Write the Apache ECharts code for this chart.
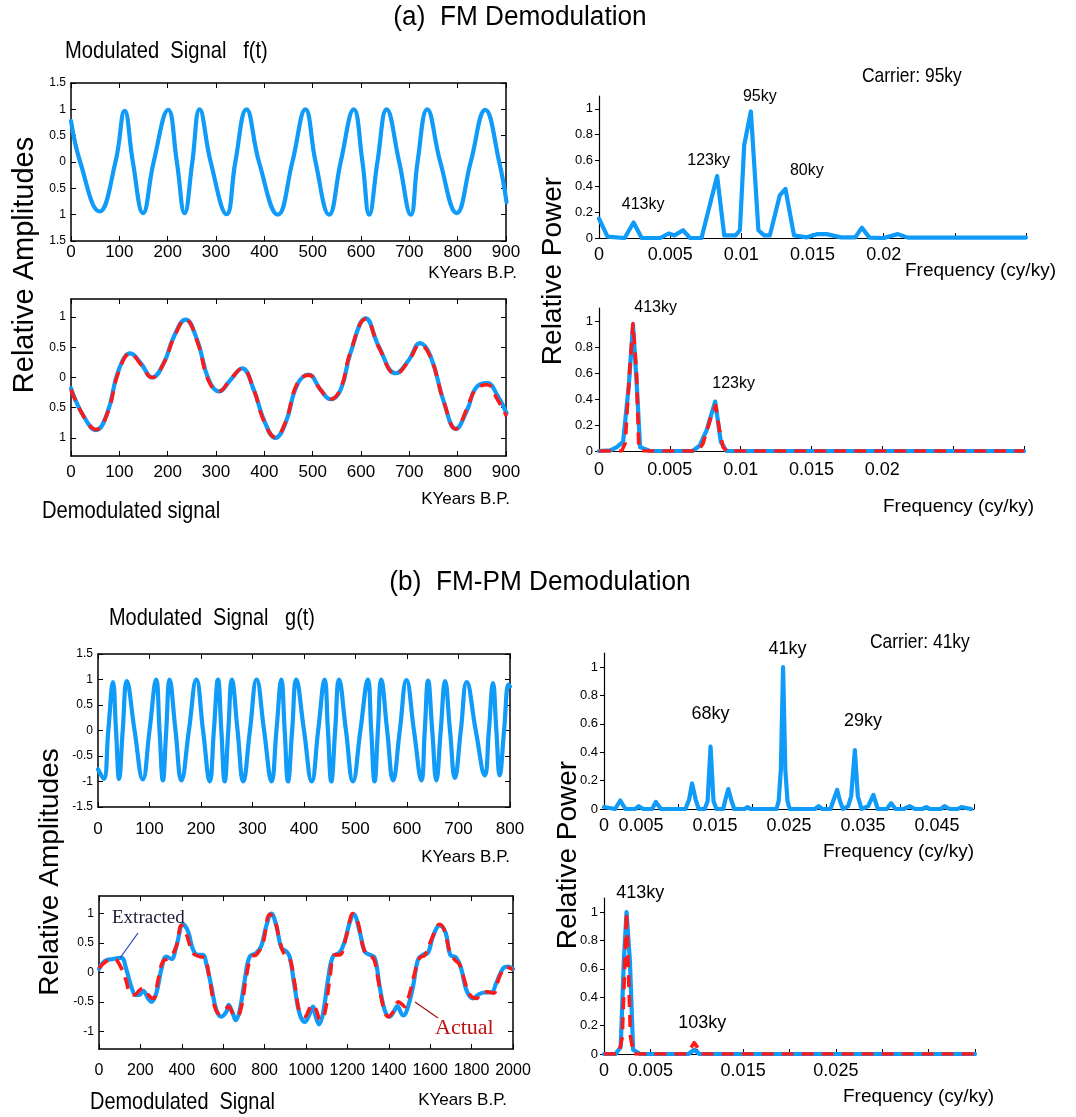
<!DOCTYPE html>
<html><head><meta charset="utf-8">
<script src="https://cdn.jsdelivr.net/npm/echarts@6/dist/echarts.min.js"></script>
<style>html,body{margin:0;padding:0;background:#fff}#c{width:1076px;height:1117px}</style>
</head><body><div id="c"></div><script>
// ---------------- DATA ----------------
// (a) Modulated signal f(t): [KYears B.P., amplitude]
const fmSignalF = [[0,0.78],[19,0],[59,-0.94],[92,0],[111,0.97],[128,0],[149,-0.97],[171,0],[201,0.99],[219,0],[235,-0.97],[251,0],[266,1.0],[289,0],[322,-0.99],[340,0],[363,1.0],[389,0],[428,-1.0],[458,0],[485,1.0],[506,0],[534,-1.0],[558,0],[585,1.0],[603,0],[617,-1.0],[634,0],[653,1.0],[679,0],[703,-1.0],[717,0],[737,1.0],[764,0],[798,-0.97],[827,0],[857,0.99],[886,0],[901,-0.76]];
// (a) Demodulated signal: extracted (blue) and actual (red)
const fmDemodExtracted = [[0,-0.18],[26,-0.64],[52,-0.87],[75,-0.59],[99,0.13],[123,0.4],[144,0.24],[168,0.0],[192,0.24],[213,0.68],[237,0.96],[261,0.62],[285,-0.04],[306,-0.23],[330,-0.04],[354,0.15],[378,-0.2],[399,-0.7],[423,-1.0],[444,-0.75],[468,-0.12],[492,0.05],[516,-0.2],[537,-0.36],[558,-0.2],[578,0.4],[610,0.98],[637,0.51],[672,0.07],[699,0.29],[722,0.57],[744,0.35],[772,-0.42],[796,-0.85],[820,-0.53],[837,-0.18],[861,-0.09],[882,-0.29],[901,-0.59]];
const fmDemodActual = [[0,-0.2],[26,-0.64],[52,-0.86],[75,-0.6],[99,0.1],[123,0.4],[144,0.22],[168,0.0],[192,0.24],[213,0.66],[237,0.96],[261,0.6],[285,-0.06],[306,-0.23],[330,-0.03],[354,0.15],[378,-0.2],[399,-0.72],[423,-0.99],[444,-0.73],[468,-0.1],[492,0.04],[516,-0.2],[537,-0.36],[558,-0.18],[578,0.42],[610,0.97],[637,0.5],[672,0.06],[699,0.28],[722,0.54],[744,0.33],[772,-0.42],[796,-0.85],[820,-0.5],[837,-0.2],[861,-0.12],[882,-0.36],[901,-0.64]];
// (a) Power spectra: [frequency cy/ky, relative power]
const fmSpectrum = [[0,0.15],[0.0006,0.01],[0.0018,0.0],[0.00243,0.12],[0.003,0.0],[0.0043,0.0],[0.0049,0.035],[0.0053,0.02],[0.0059,0.06],[0.0064,0.0],[0.0072,0.0],[0.0083,0.48],[0.0088,0.02],[0.0096,0.02],[0.0099,0.06],[0.0102,0.72],[0.01067,0.98],[0.0112,0.06],[0.0116,0.02],[0.012,0.02],[0.0127,0.33],[0.0131,0.38],[0.0137,0.02],[0.0146,0.005],[0.0153,0.03],[0.016,0.03],[0.017,0.005],[0.018,0.005],[0.01847,0.08],[0.019,0.003],[0.02,0.0],[0.021,0.03],[0.0217,0.003],[0.03,0.003]];
const fmDemodSpecExtracted = [[0,0],[0.0008,0.005],[0.00126,0.03],[0.0017,0.07],[0.0021,0.5],[0.0024,0.97],[0.00267,0.5],[0.0029,0.03],[0.0036,0],[0.0066,0],[0.0071,0.04],[0.0076,0.16],[0.0082,0.38],[0.0086,0.07],[0.009,0],[0.03,0]];
const fmDemodSpecActual = [[0,0],[0.0016,0],[0.00185,0.06],[0.00215,0.6],[0.0024,0.98],[0.00265,0.6],[0.0028,0.06],[0.003,0],[0.007,0],[0.00735,0.06],[0.0079,0.26],[0.00824,0.35],[0.0085,0.16],[0.00876,0.03],[0.009,0],[0.03,0]];
// (b) Modulated signal g(t)
const fmpmSignalG = [[0,-0.76],[11,-0.95],[20,0],[29,0.95],[35,0],[41,-0.95],[48,0],[56,0.97],[71,0],[87,-0.96],[100,0],[113,1.0],[119.5,0],[126,-0.98],[132.5,0],[139,1.0],[150.5,0],[162,-0.98],[176.5,0],[191,1.0],[204,0],[217,-1],[225,0],[233,1],[239.5,0],[246,-1],[253,0],[260,1],[271,0],[282,-1],[295,0],[308,1],[322.5,0],[337,-1],[346.5,0],[356,1],[362.5,0],[369,-1],[377,0],[385,1],[400,0],[415,-1],[427.5,0],[440,1],[446.5,0],[453,-1],[460.5,0],[468,1],[481.5,0],[495,-1],[509.5,0],[524,1],[530.5,0],[537,-1],[543.5,0],[550,1],[561.5,0],[573,-0.98],[586,0],[599,0.99],[613.5,0],[628,-0.98],[634.5,0],[641,0.98],[649,0],[657,-0.98],[665.5,0],[674,0.97],[683.5,0],[693,-0.93],[704.5,0],[716,0.95],[733.5,0],[751,-0.88],[759,0],[767,0.93],[773.5,0],[780,-0.88],[788.5,0],[797,0.9],[800,0.86]];
// (b) Demodulated signal
const fmpmDemodExtracted = [[0,0.06],[27,0.19],[68,0.23],[108,0.25],[132,0.05],[156,-0.24],[177,-0.38],[196,-0.38],[213,-0.31],[237,-0.44],[253,-0.5],[277,-0.35],[301,0.05],[325,0.27],[350,0.23],[374,0.45],[406,0.82],[430,0.7],[454,0.39],[478,0.3],[502,0.3],[518,0.16],[543,-0.24],[567,-0.64],[591,-0.75],[615,-0.67],[626,-0.55],[647,-0.7],[660,-0.81],[680,-0.64],[704,-0.13],[728,0.27],[760,0.33],[784,0.45],[808,0.79],[833,1.0],[857,0.79],[881,0.42],[905,0.36],[921,0.27],[945,-0.24],[969,-0.7],[994,-0.84],[1018,-0.7],[1034,-0.58],[1047,-0.75],[1063,-0.88],[1082,-0.7],[1106,-0.13],[1130,0.27],[1163,0.34],[1187,0.53],[1211,0.85],[1230,0.99],[1259,0.7],[1283,0.36],[1308,0.3],[1332,0.25],[1356,-0.24],[1380,-0.64],[1404,-0.75],[1428,-0.64],[1441,-0.57],[1461,-0.7],[1472,-0.73],[1493,-0.58],[1517,-0.24],[1541,0.22],[1565,0.3],[1589,0.33],[1614,0.62],[1646,0.8],[1675,0.67],[1697,0.3],[1726,0.25],[1751,0.05],[1775,-0.3],[1807,-0.44],[1831,-0.38],[1863,-0.34],[1895,-0.34],[1919,-0.18],[1952,0.07],[1976,0.1],[2000,0.06]];
const fmpmDemodActual = [[0,0.07],[35,0.19],[76,0.22],[100,0.13],[132,-0.15],[148,-0.35],[172,-0.38],[196,-0.3],[213,-0.27],[245,-0.41],[264,-0.44],[285,-0.13],[309,0.19],[341,0.25],[374,0.45],[398,0.8],[422,0.65],[454,0.33],[486,0.27],[510,0.25],[535,-0.13],[559,-0.58],[583,-0.7],[607,-0.64],[626,-0.58],[647,-0.7],[667,-0.75],[688,-0.58],[712,-0.07],[736,0.27],[760,0.3],[792,0.5],[825,0.99],[849,0.9],[873,0.53],[897,0.3],[921,0.25],[945,-0.18],[969,-0.67],[994,-0.75],[1018,-0.61],[1034,-0.55],[1050,-0.64],[1069,-0.81],[1090,-0.7],[1114,-0.13],[1138,0.3],[1163,0.3],[1195,0.62],[1227,1.0],[1251,0.85],[1275,0.45],[1300,0.27],[1324,0.25],[1349,-0.13],[1373,-0.58],[1397,-0.75],[1421,-0.67],[1446,-0.5],[1461,-0.53],[1477,-0.58],[1501,-0.35],[1525,-0.01],[1549,0.25],[1573,0.29],[1606,0.56],[1646,0.82],[1670,0.7],[1694,0.36],[1718,0.22],[1743,0.13],[1767,-0.15],[1791,-0.38],[1823,-0.44],[1847,-0.35],[1879,-0.33],[1906,-0.35],[1935,-0.07],[1968,0.09],[2000,0.05]];
// (b) Power spectra
const fmpmSpectrum = [[0,0.014],[0.0015,0],[0.0022,0.06],[0.0029,0],[0.0042,0],[0.0047,0.02],[0.0053,0],[0.0065,0],[0.007,0.05],[0.0077,0],[0.0096,0],[0.011,0],[0.0115,0.065],[0.0119,0.18],[0.0124,0.065],[0.0128,0],[0.0136,0],[0.014,0.054],[0.0144,0.44],[0.0148,0.054],[0.0152,0],[0.0161,0],[0.0164,0.065],[0.0168,0.14],[0.0172,0.065],[0.0176,0],[0.019,0],[0.0194,0.014],[0.0198,0],[0.0233,0],[0.0236,0.054],[0.0239,0.28],[0.0242,1.0],[0.0245,0.28],[0.0248,0.054],[0.0251,0],[0.0285,0],[0.029,0.02],[0.0295,0],[0.0306,0],[0.0312,0.09],[0.0315,0.135],[0.0319,0.054],[0.0323,0],[0.033,0.02],[0.0334,0.09],[0.0339,0.415],[0.0343,0.09],[0.0348,0],[0.0357,0.02],[0.0364,0.1],[0.037,0],[0.0382,0],[0.0388,0.04],[0.0394,0],[0.0405,0],[0.0413,0.02],[0.042,0],[0.043,0],[0.0436,0.014],[0.044,0],[0.0455,0],[0.046,0.02],[0.0467,0],[0.0478,0],[0.0483,0.014],[0.0496,0]];
const fmpmDemodSpecExtracted = [[0,0],[0.00125,0],[0.0018,0.05],[0.00214,0.66],[0.00243,1.0],[0.00279,0.66],[0.00314,0.03],[0.0039,0],[0.0091,0],[0.00972,0.03],[0.0103,0],[0.04,0]];
const fmpmDemodSpecActual = [[0,0],[0.0016,0],[0.00197,0.12],[0.00243,1.0],[0.00286,0.12],[0.0032,0],[0.0089,0],[0.00947,0.054],[0.00972,0.08],[0.01,0.054],[0.0104,0],[0.04,0]];
// Tick labels
const ampTicksDemod = [-1,-0.5,0,0.5,1];
const powerTicks = [0,0.2,0.4,0.6,0.8,1];
const freqLabelsA = [0,0.005,0.01,0.015,0.02];
const freqLabelsB3 = [0,0.005,0.015,0.025,0.035,0.045];
const freqLabelsB4 = [0,0.005,0.015,0.025];
// Peak annotations: [text, frequency, power, label lift in px]
const peaksA3 = [['95ky',0.0113,1.0,-12],['123ky',0.0077,0.6,0],['80ky',0.0146,0.52,0],['413ky',0.0031,0.26,0]];
const peaksA4 = [['413ky',0.0040,1.0,-13],['123ky',0.0095,0.52,0]];
const peaksB3 = [['41ky',0.0248,1.0,-18],['68ky',0.0144,0.67,0],['29ky',0.035,0.62,0]];
const peaksB4 = [['413ky',0.0039,1.0,-19],['103ky',0.0106,0.22,0]];

// ---------------- STYLE / BUILD ----------------
const SANS = "'Liberation Sans', Arial, sans-serif";
const BLUE = '#0f9bf7', RED = '#ff1a1a';
const grids = [], xAxes = [], yAxes = [], series = [], graphics = [];
const plain = v => String(v);

function addFramed(box, xmin, xmax, xint, ymin, ymax, yOpt, fmt, xLabelMargin, xFont) {
  const g = grids.length;
  grids.push({left: box[0], top: box[1], width: box[2], height: box[3], containLabel: false});
  const line = {show: true, onZero: false, lineStyle: {color: '#000', width: 1.5}};
  const tick = {show: true, inside: true, length: 5, lineStyle: {color: '#000', width: 1}};
  const xi = xAxes.length;
  xAxes.push({type: 'value', gridIndex: g, min: xmin, max: xmax, interval: xint, position: 'bottom',
    axisLine: line, axisTick: tick, splitLine: {show: false},
    axisLabel: {fontSize: xFont || 17, color: '#000', fontFamily: SANS, margin: xLabelMargin, showMaxLabel: true, hideOverlap: false, formatter: plain}});
  xAxes.push({type: 'value', gridIndex: g, min: xmin, max: xmax, interval: xint, position: 'top',
    axisLine: line, axisTick: tick, splitLine: {show: false}, axisLabel: {show: false}});
  const yi = yAxes.length;
  const yBase = {type: 'value', gridIndex: g, min: ymin, max: ymax, splitLine: {show: false}, axisLine: line};
  if (yOpt.interval) yBase.interval = yOpt.interval;
  const yTick = Object.assign({}, tick, yOpt.custom ? {customValues: yOpt.custom} : {});
  yAxes.push(Object.assign({}, yBase, {position: 'left', axisTick: yTick,
    axisLabel: Object.assign({fontSize: 12, color: '#000', fontFamily: SANS, margin: 5, formatter: fmt || plain},
      yOpt.custom ? {customValues: yOpt.custom} : {})}));
  yAxes.push(Object.assign({}, yBase, {position: 'right', axisTick: yTick, axisLabel: {show: false}}));
  return {xi, yi};
}

function addSpectrum(box, xmax, tickInt, labels, xLabelMargin) {
  const g = grids.length;
  grids.push({left: box[0], top: box[1], width: box[2], height: box[3], containLabel: false});
  const xi = xAxes.length, yi = yAxes.length;
  xAxes.push({type: 'value', gridIndex: g, min: 0, max: xmax, interval: tickInt,
    axisLine: {show: true, onZero: false, lineStyle: {color: '#000', width: 1.2}},
    axisTick: {show: true, inside: true, length: 5, lineStyle: {color: '#000'}},
    splitLine: {show: false},
    axisLabel: {customValues: labels, fontSize: 18, color: '#000', fontFamily: SANS, margin: xLabelMargin, formatter: plain}});
  yAxes.push({type: 'value', gridIndex: g, min: 0, max: 1.1,
    axisLine: {show: true, onZero: false, lineStyle: {color: '#000', width: 1.2}},
    axisTick: {show: true, inside: false, length: 4, customValues: powerTicks, lineStyle: {color: '#000'}},
    splitLine: {show: false},
    axisLabel: {customValues: powerTicks, fontSize: 13, color: '#000', fontFamily: SANS, margin: 6, formatter: plain}});
  return {xi, yi};
}

function addLine(ax, data, color, dashed, smooth, peaks, peakFont) {
  const s = {type: 'line', xAxisIndex: ax.xi, yAxisIndex: ax.yi, data: data, showSymbol: false,
    smooth: smooth, silent: true, animation: false, clip: true,
    lineStyle: {color: color, width: dashed ? 3.6 : 4.2, type: dashed ? [12, 8] : 'solid', join: 'round', cap: dashed ? 'butt' : 'round'},
    z: dashed ? 3 : 2};
  if (peaks) {
    s.markPoint = {symbol: 'circle', symbolSize: 0, silent: true, animation: false,
      data: peaks.map(p => ({name: p[0], coord: [p[1], p[2]],
        label: {show: true, color: '#000', fontSize: peakFont || 16, fontFamily: SANS, formatter: '{b}', position: 'inside', offset: [0, p[3]]}}))};
  }
  series.push(s);
}

// (a) panels
const a1 = addFramed([71, 83, 435, 158], 0, 900, 100, -1.5, 1.5, {interval: 0.5}, v => String(Math.abs(v)), 3);
addLine(a1, fmSignalF, BLUE, false, 0.45);
const a2 = addFramed([71, 299, 435, 157], 0, 900, 100, -1.3, 1.3, {custom: ampTicksDemod}, v => String(Math.abs(v)), 8);
addLine(a2, fmDemodExtracted, BLUE, false, 0.45);
addLine(a2, fmDemodActual, RED, true, 0.45);
const a3 = addSpectrum([599, 96, 427, 142], 0.03, 0.005, freqLabelsA, 8);
addLine(a3, fmSpectrum, BLUE, false, false, peaksA3, 16);
const a4 = addSpectrum([599, 308, 425, 143], 0.03, 0.005, freqLabelsA, 10);
addLine(a4, fmDemodSpecExtracted, BLUE, false, false, peaksA4, 16);
addLine(a4, fmDemodSpecActual, RED, true, false);
// (b) panels
const b1 = addFramed([98, 654, 412, 153], 0, 800, 100, -1.5, 1.5, {interval: 0.5}, null, 14);
addLine(b1, fmpmSignalG, BLUE, false, 0.45);
const b2 = addFramed([99, 896, 414, 153], 0, 2000, 200, -1.3, 1.3, {custom: ampTicksDemod}, null, 14, 16);
addLine(b2, fmpmDemodExtracted, BLUE, false, 0.4);
addLine(b2, fmpmDemodActual, RED, true, 0.4);
const b3 = addSpectrum([604, 653, 370, 156], 0.05, 0.01, freqLabelsB3, 8);
addLine(b3, fmpmSpectrum, BLUE, false, false, peaksB3, 18);
const b4 = addSpectrum([604, 898, 371, 156], 0.04, 0.005, freqLabelsB4, 8);
addLine(b4, fmpmDemodSpecExtracted, BLUE, false, false, peaksB4, 18);
addLine(b4, fmpmDemodSpecActual, RED, true, false);

// Text
function txt(s, x, y, size, opts) {
  opts = opts || {};
  graphics.push({type: 'text', x: x, y: y, rotation: opts.rot || 0, scaleX: opts.sx || 1, silent: true, z: 20,
    style: {text: s, fill: opts.color || '#000', font: size + 'px ' + (opts.font || SANS),
      textAlign: opts.align || 'left', textVerticalAlign: 'middle'}});
}
txt('(a)  FM Demodulation', 520, 18, 27, {align: 'center', sx: 0.97});
txt('(b)  FM-PM Demodulation', 540, 583, 27, {align: 'center', sx: 0.97});
txt('Modulated  Signal   f(t)', 65, 51, 24, {sx: 0.84});
txt('Modulated  Signal   g(t)', 109, 618, 24, {sx: 0.83});
txt('Demodulated signal', 42, 511, 24, {sx: 0.84});
txt('Demodulated  Signal', 90, 1102, 24, {sx: 0.83});
txt('KYears B.P.', 517, 273, 17, {align: 'right'});
txt('KYears B.P.', 510, 499, 17, {align: 'right'});
txt('KYears B.P.', 510, 857, 17, {align: 'right'});
txt('KYears B.P.', 507, 1100, 17, {align: 'right'});
txt('Relative Amplitudes', 25, 265, 29, {align: 'center', rot: Math.PI / 2});
txt('Relative Amplitudes', 50, 872, 28, {align: 'center', rot: Math.PI / 2});
txt('Relative Power', 553, 271, 28, {align: 'center', rot: Math.PI / 2});
txt('Relative Power', 568, 855, 28, {align: 'center', rot: Math.PI / 2});
txt('Carrier: 95ky', 862, 76, 21, {sx: 0.83});
txt('Carrier: 41ky', 870, 642, 21, {sx: 0.83});
txt('Frequency (cy/ky)', 905, 271, 19);
txt('Frequency (cy/ky)', 883, 507, 19);
txt('Frequency (cy/ky)', 823, 852, 19);
txt('Frequency (cy/ky)', 843, 1097, 19);
txt('Extracted', 112, 918, 19, {font: "'Liberation Serif', serif", color: '#1a1a3a'});
txt('Actual', 435, 1028, 22, {font: "'Liberation Serif', serif", color: '#c01010'});
graphics.push({type: 'line', silent: true, shape: {x1: 138, y1: 933, x2: 120, y2: 958}, style: {stroke: '#1f3fbf', lineWidth: 1.2}, z: 10});
graphics.push({type: 'line', silent: true, shape: {x1: 415, y1: 1002, x2: 438, y2: 1018}, style: {stroke: '#a01010', lineWidth: 1.2}, z: 10});

const chart = echarts.init(document.getElementById('c'), null, {renderer: 'canvas'});
chart.setOption({
  animation: false,
  backgroundColor: '#fff',
  grid: grids, xAxis: xAxes, yAxis: yAxes, series: series, graphic: graphics
});
</script></body></html>
